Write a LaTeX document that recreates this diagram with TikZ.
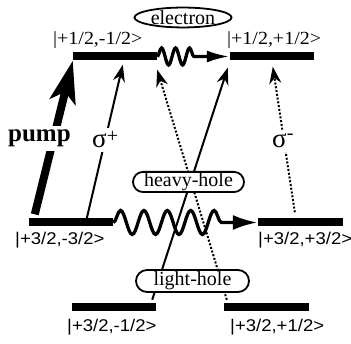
\documentclass[tikz,border=0pt]{standalone}
\usepackage{fontspec}
\setmainfont{Liberation Serif}
\newfontfamily\ketserif[FakeStretch=1.08]{Liberation Serif}
\newfontfamily\ketsans[FakeStretch=1.09]{Liberation Sans}
\usetikzlibrary{arrows.meta, decorations.pathmorphing, shapes.geometric, shapes.misc, positioning}

\tikzset{
  statebar/.style={fill=black, inner sep=0pt, minimum height=8pt, minimum width=84pt},
  ketE/.style={font=\ketserif\fontsize{18.5}{20}\selectfont, inner sep=0pt, anchor=base west},
  ketH/.style={font=\ketsans\fontsize{17}{20}\selectfont, inner sep=0pt, anchor=base west},
  bandtag/.style={draw, line width=1.8pt, fill=white, font=\fontsize{20}{24}\selectfont, inner sep=1pt},
  trans/.style={line width=2pt, -{Stealth[length=17pt,width=12pt]}},
  dotline/.style={dash pattern=on 2pt off 1.8pt},
  spinflip/.style={line width=3.3pt, decorate},
  tagtext/.style={fill=white, inner sep=4pt, anchor=base west}
}

\begin{document}
\begin{tikzpicture}[x=1pt, y=1pt]
  \useasboundingbox (0,0) rectangle (351,344);

  % Levels
  \node[statebar] (e1) at (115,287.5) {};
  \node[statebar] (e2) at (272,287.5) {};
  \node[statebar] (hh1) at (71,121.5) {};
  \node[statebar, minimum width=85pt] (hh2) at (300.5,121.5) {};
  \node[statebar] (lh1) at (114,37) {};
  \node[statebar, minimum width=85pt] (lh2) at (266.5,37) {};

  % Kets
  \node[ketE] (ke1) at (53,299.3) {|+1/2,-1/2>};
  \node[ketE] (ke2) at (227,299.3) {|+1/2,+1/2>};
  \node[ketH] (khh1) at (15,99.3) {|+3/2,-3/2>};
  \node[ketH] (khh2) at (258,99.3) {|+3/2,+3/2>};
  \node[ketH] (klh1) at (67,12.3) {|+3/2,-1/2>};
  \node[ketH] (klh2) at (230,12.3) {|+3/2,+1/2>};

  % Optical transitions
  \draw[trans] ([xshift=58pt]hh1.north west) -- ([xshift=50pt,yshift=-4pt]e1.south west);
  \draw[trans] ([xshift=-4pt,yshift=3pt]lh1.north east) -- ([xshift=-2pt,yshift=-7pt]e2.south west);
  \draw[trans, dotline] ([xshift=3pt,yshift=3pt]lh2.north west) -- ([yshift=-9pt]e1.south east);
  \draw[trans, dotline] ([xshift=37pt,yshift=6pt]hh2.north west) -- ([xshift=43pt,yshift=-6pt]e2.south west);
  \draw[line width=8pt, -{Stealth[length=42pt,width=26pt,inset=10pt]}] ([xshift=6pt,yshift=4pt]hh1.north west) -- (e1.south west);

  % Transition labels
  \node[tagtext, font=\bfseries\fontsize{25}{28}\selectfont] (pump) at (4,202) {pump};
  \node[tagtext, font=\fontsize{27}{28}\selectfont] (sp) at (88,196) {σ{\fontsize{20}{24}\selectfont\raisebox{5pt}{+}}};
  \node[tagtext, font=\fontsize{27}{28}\selectfont] (sm) at (268,196) {σ{\fontsize{20}{24}\selectfont\raisebox{8pt}{-}}};

  % Spin flips
  \draw[spinflip, decoration={snake, amplitude=8.5pt, segment length=14pt, post length=32pt},
        -{Latex[length=23pt,width=12pt]}] (e1.east) -- (e2.west);
  \draw[spinflip, decoration={snake, amplitude=12pt, segment length=23.4pt, post length=28pt},
        -{Latex[length=25pt,width=15pt]}] (hh1.east) -- (hh2.west);

  % Bands
  \node[bandtag, ellipse, minimum width=97pt, minimum height=19pt, inner sep=0pt] (el) at (183,326.5) {electron};
  \node[bandtag, rounded rectangle, minimum width=113pt, minimum height=20pt] (hh) at (188.5,162) {heavy-hole};
  \node[bandtag, rounded rectangle, minimum width=115pt, minimum height=22pt] (lh) at (192.5,63) {light-hole};
\end{tikzpicture}
\end{document}
